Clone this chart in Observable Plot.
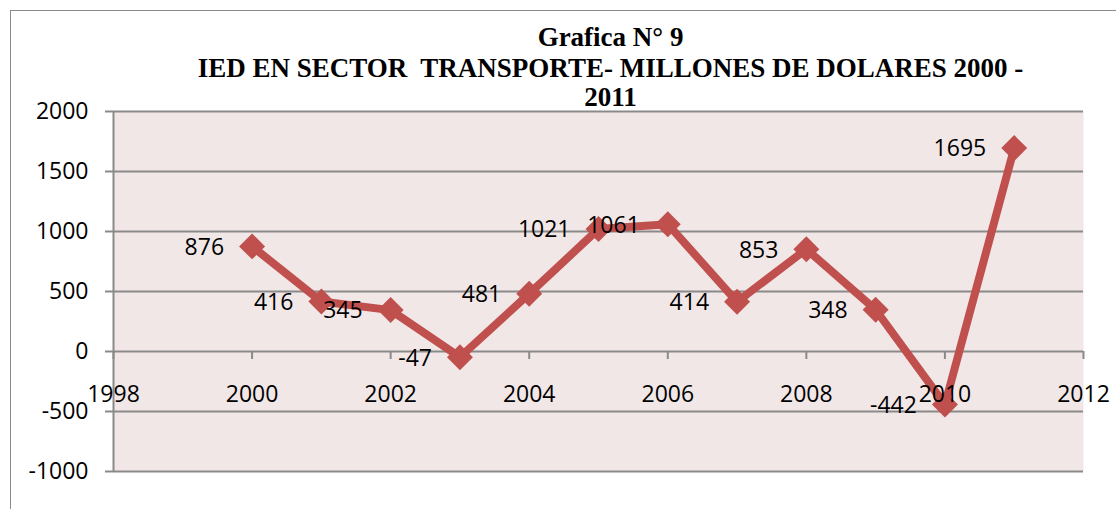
<!DOCTYPE html>
<html>
<head>
<meta charset="utf-8">
<script src="https://cdn.jsdelivr.net/npm/d3@7"></script>
<script src="https://cdn.jsdelivr.net/npm/@observablehq/plot@0.6"></script>
<style>
  html, body { margin: 0; padding: 0; background: #fff; overflow: hidden; }
  #wrap { position: relative; width: 1116px; height: 509px; }
  #border { position: absolute; left: 10px; top: 10px; width: 1200px; height: 600px;
            border-left: 1.5px solid #8a8a8a; border-top: 1.5px solid #8a8a8a; }
  #chart { position: absolute; left: 0; top: 0; }
</style>
</head>
<body>
<div id="wrap"><div id="border"></div><div id="chart"></div></div>
<script>
const years = [2000, 2001, 2002, 2003, 2004, 2005, 2006, 2007, 2008, 2009, 2010, 2011];
const values = [876, 416, 345, -47, 481, 1021, 1061, 414, 853, 348, -442, 1695];
const xTicks = [1998, 2000, 2002, 2004, 2006, 2008, 2010, 2012];
const yTicks = [-1000, -500, 0, 500, 1000, 1500, 2000];
const titleLines = ["Grafica N° 9", "IED EN SECTOR  TRANSPORTE- MILLONES DE DOLARES 2000 -", "2011"];
const titleOffsets = [-74, -43, -14];

const data = years.map((y, i) => ({year: y, value: values[i]}));
const titles = titleLines.map((t, i) => ({text: t, dy: titleOffsets[i]}));

const red = "#C0504D";
const gray = "#8a8a8a";

const plot = Plot.plot({
  width: 1116,
  height: 509,
  marginLeft: 113,
  marginRight: 33,
  marginTop: 111,
  marginBottom: 38,
  style: {fontFamily: "'Open Sans', sans-serif", fontSize: "23px", color: "black", background: "transparent"},
  x: {domain: [1998, 2012], axis: null},
  y: {domain: [-1000, 2000], axis: null},
  marks: [
    Plot.frame({fill: "#F2E7E7", stroke: null}),
    Plot.ruleY(yTicks, {stroke: gray, strokeWidth: 2}),
    Plot.ruleX([1998], {stroke: gray, strokeWidth: 2}),
    Plot.ruleX(xTicks, {x: d => d, y1: 0, y2: 0, insetBottom: -8, stroke: gray, strokeWidth: 2}),
    Plot.axisY({ticks: yTicks, label: null, tickSize: 8, tickPadding: 17, stroke: gray, strokeWidth: 2, fill: "black", fontSize: 23, tickFormat: d => String(d)}),
    Plot.line(data, {x: "year", y: "value", stroke: red, strokeWidth: 8, strokeLinejoin: "round"}),
    Plot.dot(data, {x: "year", y: "value", symbol: "diamond2", r: 11.7, fill: red, stroke: null}),
    Plot.text(xTicks, {x: d => d, y: 0, dy: 43, text: d => String(d), fill: "black", fontSize: 23}),
    Plot.text(data, {x: "year", y: "value", text: d => String(d.value), textAnchor: "end", dx: -28, dy: 1, fill: "black", fontSize: 23}),
    ...titles.map(t => Plot.text([t.text], {frameAnchor: "top", text: d => d, dx: 12, dy: t.dy, lineAnchor: "middle",
      fontFamily: "'Liberation Serif', 'Times New Roman', serif", fontWeight: "bold", fontSize: 27, fill: "black"}))
  ]
});
document.getElementById("chart").appendChild(plot);
</script>
</body>
</html>
